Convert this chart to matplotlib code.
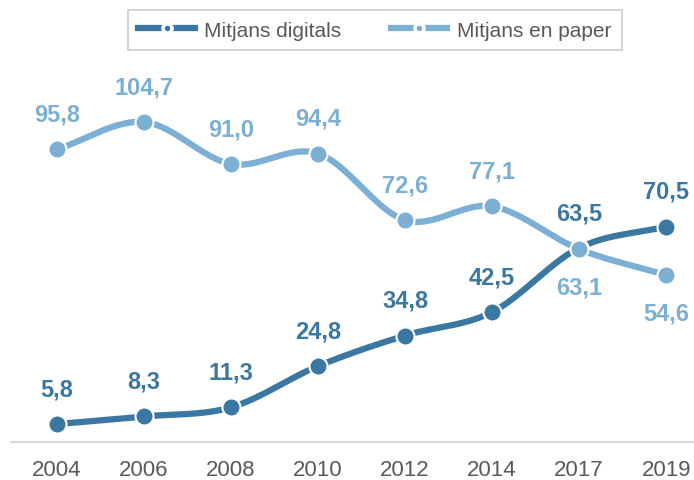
import numpy as np
import matplotlib.pyplot as plt

plt.rcParams['font.family'] = ['Liberation Sans', 'DejaVu Sans']

years = ['2004', '2006', '2008', '2010', '2012', '2014', '2017', '2019']
digitals = [5.8, 8.3, 11.3, 24.8, 34.8, 42.5, 63.5, 70.5]
paper = [95.8, 104.7, 91.0, 94.4, 72.6, 77.1, 63.1, 54.6]

c_dig = '#3A77A2'
c_pap = '#7BAFD4'


# corba suavitzada tipus Excel (Catmull-Rom)
def smooth(xs, ys, n=30):
    xs = np.asarray(xs, float)
    ys = np.asarray(ys, float)
    px = np.concatenate([[2 * xs[0] - xs[1]], xs, [2 * xs[-1] - xs[-2]]])
    py = np.concatenate([[2 * ys[0] - ys[1]], ys, [2 * ys[-1] - ys[-2]]])
    ox, oy = [], []
    for i in range(1, len(px) - 2):
        t = np.linspace(0, 1, n)
        for p, out in ((px, ox), (py, oy)):
            p0, p1, p2, p3 = p[i - 1], p[i], p[i + 1], p[i + 2]
            out.extend(0.5 * ((2 * p1) + (-p0 + p2) * t
                              + (2 * p0 - 5 * p1 + 4 * p2 - p3) * t ** 2
                              + (-p0 + 3 * p1 - 3 * p2 + p3) * t ** 3))
    return np.array(ox), np.array(oy)


x = np.arange(len(years))

fig = plt.figure(figsize=(6.94, 4.81), dpi=100)
ax = fig.add_axes([0.0144, 0.0, 0.9856, 0.9206])

for vals, col, z in ((digitals, c_dig, 2), (paper, c_pap, 3)):
    sx, sy = smooth(x, vals)
    ax.plot(sx, sy, color=col, lw=4.5, solid_capstyle='round', zorder=z)
    ax.plot(x, vals, 'o', color=col, ms=13, mec='white', mew=1.5, zorder=z + 0.5)

for i, v in enumerate(digitals):
    ax.annotate(f'{v:.1f}'.replace('.', ','), (i, v), xytext=(0, 17),
                textcoords='offset points', ha='center', va='bottom',
                color=c_dig, fontsize=17, fontweight='bold')

for i, v in enumerate(paper):
    below = years[i] in ('2017', '2019')
    ax.annotate(f'{v:.1f}'.replace('.', ','), (i, v),
                xytext=(0, -19 if below else 17),
                textcoords='offset points', ha='center',
                va='top' if below else 'bottom',
                color=c_pap, fontsize=17, fontweight='bold')

ax.set_xlim(-0.54, 7.32)
ax.set_ylim(-12.5, 132.5)
ax.axhline(0, color='#D9D9D9', lw=1.5, zorder=1)
ax.set_yticks([])
ax.set_xticks(x)
ax.set_xticklabels(years, fontsize=16, color='#595959')
ax.tick_params(axis='x', length=0, pad=-15)
for s in ax.spines.values():
    s.set_visible(False)

h1, = ax.plot([], [], color=c_dig, lw=4.5, marker='o', ms=6.5, mfc=c_dig,
              mec='white', mew=2.5)
h2, = ax.plot([], [], color=c_pap, lw=4.5, marker='o', ms=6.5, mfc=c_pap,
              mec='white', mew=2.5)
leg = fig.legend([h1, h2], ['Mitjans digitals', 'Mitjans en paper'],
                 loc='center', bbox_to_anchor=(0.54, 0.935), ncol=2,
                 fontsize=15, frameon=True, fancybox=False,
                 handlelength=2.7, handletextpad=0.45, columnspacing=2.4,
                 borderpad=0.5, borderaxespad=0, edgecolor='#BFBFBF')
leg.get_frame().set_linewidth(1.2)
for t in leg.get_texts():
    t.set_color('#595959')

plt.savefig('out.png', dpi=100)
